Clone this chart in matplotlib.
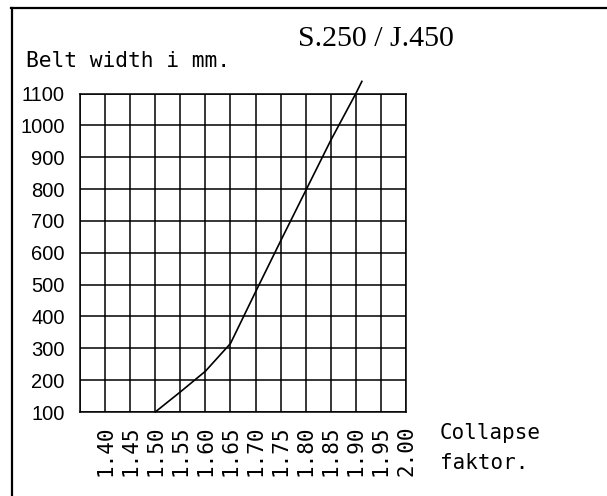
import matplotlib
matplotlib.use("Agg")
import matplotlib.pyplot as plt
from matplotlib.lines import Line2D

# Data
collapse_factor = [1.50, 1.55, 1.60, 1.65, 1.70, 1.75, 1.80, 1.85, 1.90, 1.912]
belt_width = [100, 163, 228, 315, 477, 637, 795, 953, 1100, 1138]
x_ticks = [1.40, 1.45, 1.50, 1.55, 1.60, 1.65, 1.70, 1.75, 1.80, 1.85, 1.90, 1.95, 2.00]
x_tick_labels = ["1.40", "1.45", "1.50", "1.55", "1.60", "1.65", "1.70",
                 "1.75", "1.80", "1.85", "1.90", "1.95", "2.00"]
y_ticks = [100, 200, 300, 400, 500, 600, 700, 800, 900, 1000, 1100]
x_grid = [1.35, 1.40, 1.45, 1.50, 1.55, 1.60, 1.65, 1.70, 1.75, 1.80, 1.85, 1.90, 1.95, 2.00]

W, H = 607, 496
fig = plt.figure(figsize=(W / 100, H / 100), dpi=100)
ax = fig.add_axes([80 / W, (H - 412) / H, (406 - 80) / W, (412 - 93.5) / H])

ax.set_xlim(1.35, 2.00)
ax.set_ylim(100, 1100)

for xv in x_grid:
    ax.axvline(xv, color="black", lw=1.1, zorder=1)
for yv in y_ticks:
    ax.axhline(yv, color="black", lw=1.1, zorder=1)

ax.plot(collapse_factor, belt_width, color="black", lw=1.2, clip_on=False, zorder=3)

for s in ax.spines.values():
    s.set_color("black")
    s.set_linewidth(1.1)

ax.set_xticks(x_ticks)
ax.set_xticklabels(x_tick_labels, rotation=90, family="DejaVu Sans Mono", fontsize=15)
ax.set_yticks(y_ticks)
ax.set_yticklabels([str(v) for v in y_ticks], family="Liberation Sans", fontsize=14.5)
ax.tick_params(axis="x", length=0, pad=10)
ax.tick_params(axis="y", length=0, pad=11)

# Texts
fig.text(298 / W, 1 - 39 / H, "S.250 / J.450", family="Liberation Serif", fontsize=21.5,
         ha="left", va="center", color="black")
fig.text(26 / W, 1 - 61 / H, "Belt width i mm.", family="DejaVu Sans Mono", fontsize=15.3,
         ha="left", va="center", color="black")
fig.text(440 / W, 1 - 433 / H, "Collapse", family="DejaVu Sans Mono", fontsize=15,
         ha="left", va="center", color="black")
fig.text(440 / W, 1 - 463 / H, "faktor.", family="DejaVu Sans Mono", fontsize=15,
         ha="left", va="center", color="black")

# Outer frame (top and left)
fig.add_artist(Line2D([11 / W, 1.0], [1 - 8 / H, 1 - 8 / H], transform=fig.transFigure,
                      color="black", lw=1.6))
fig.add_artist(Line2D([12 / W, 12 / W], [1 - 8 / H, 0.0], transform=fig.transFigure,
                      color="black", lw=1.6))

fig.savefig("out.png", dpi=100)
